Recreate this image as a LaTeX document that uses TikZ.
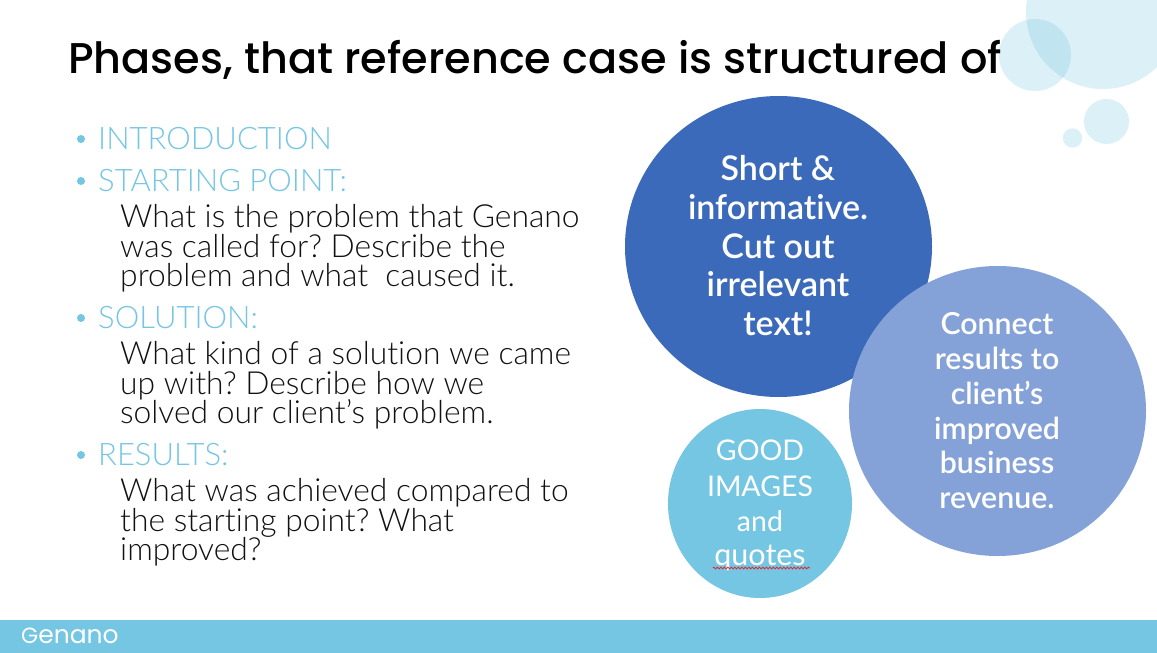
\documentclass[tikz,border=0pt]{standalone}
\usepackage{fontspec}
\setmainfont[Ligatures=NoCommon]{Lato}
\newfontfamily\titlefont{Poppins Medium}
\newfontfamily\lightfont[Ligatures=NoCommon]{Lato Light}
\newfontfamily\semifont[Ligatures=NoCommon]{Lato Semibold}
\newfontfamily\logofont{Poppins}
\frenchspacing
\usetikzlibrary{decorations.pathmorphing}
\definecolor{sky}{HTML}{75C6E3}
\definecolor{deep}{HTML}{3C6ABA}
\definecolor{mid}{HTML}{85A2D8}
\definecolor{bodyink}{HTML}{111111}
\definecolor{wavy}{HTML}{D9303A}
\tikzset{
  x=1pt,y=-1pt,
  titletext/.style={anchor=base west,inner sep=0pt,font=\titlefont\fontsize{43}{43}\selectfont,text=black},
  head/.style={anchor=base west,inner sep=0pt,font=\lightfont\fontsize{31}{31}\selectfont,text=sky},
  bodyline/.style={anchor=base west,inner sep=0pt,font=\lightfont\fontsize{31.8}{31.8}\selectfont,text=bodyink},
  dot/.style={circle,fill=sky,inner sep=0pt,minimum size=8pt},
  bubble/.style={fill=sky,fill opacity=.26,draw=none},
  bigtext/.style={anchor=base,inner sep=0pt,font=\semifont\fontsize{34}{34}\selectfont,text=white},
  midtext/.style={anchor=base,inner sep=0pt,font=\semifont\fontsize{30.3}{30.3}\selectfont,text=white},
  smalltext/.style={anchor=base,inner sep=0pt,font=\fontsize{28.5}{28.5}\selectfont,text=white},
  quotetext/.style={anchor=base,inner sep=0pt,font=\fontsize{30.5}{30.5}\selectfont,text=white},
}
\begin{document}
\begin{tikzpicture}
\useasboundingbox (0,0) rectangle (1157,653);
\fill[white] (0,0) rectangle (1157,653);
% decorative bubbles
\begin{scope}
\clip (0,0) rectangle (1157,653);
\fill[bubble] (1103,12) circle[radius=77];
\fill[bubble] (1035,55) circle[radius=36];
\fill[bubble] (1106.5,121.5) circle[radius=22.5];
\fill[bubble] (1072.5,138) circle[radius=9.7];
\end{scope}
% footer
\fill[sky] (0,620) rectangle (1157,653);
\node[anchor=base west,inner sep=0pt,text=white,font=\logofont] (logo) at (21,643) {\fontsize{22}{22}\selectfont G\fontsize{25}{25}\selectfont enano};
% title
\node[titletext] (title) at (68,73) {Phases, that reference case is structured of};
% list
\node[dot] (d1) at (81,139) {};
\node[head] (h1) at (98,149) {INTRODUCTION};
\node[dot] (d2) at (81,181) {};
\node[head] (h2) at (98,191) {STARTING POINT:};
\node[bodyline] (b1) at (120,227.5) {What is the problem that Genano};
\node[bodyline] (b2) at (120,257.5) {was called for? Describe the};
\node[bodyline] (b3) at (120,286.5) {problem and what\ \ caused it.};
\node[dot] (d3) at (81,318) {};
\node[head] (h3) at (98,328) {SOLUTION:};
\node[bodyline] (b4) at (120,364.5) {What kind of a solution we came};
\node[bodyline] (b5) at (120,394.5) {up with? Describe how we};
\node[bodyline] (b6) at (120,423.5) {solved our client’s problem.};
\node[dot] (d4) at (81,455) {};
\node[head] (h4) at (98,465) {RESULTS:};
\node[bodyline] (b7) at (120,501.5) {What was achieved compared to};
\node[bodyline] (b8) at (120,531.5) {the starting point? What};
\node[bodyline] (b9) at (120,560.5) {improved?};
% circles
\fill[deep] (778.5,246.5) ellipse[x radius=153.5,y radius=150.5];
\fill[mid] (997.5,411) ellipse[x radius=148.5,y radius=145];
\fill[sky] (760,503.5) ellipse[x radius=92,y radius=94.5];
% circle texts
\node[bigtext] (s1) at (778,180) {Short \&};
\node[bigtext] (s2) at (778,219) {informative.};
\node[bigtext] (s3) at (778,258) {Cut out};
\node[bigtext] (s4) at (778,296) {irrelevant};
\node[bigtext] (s5) at (778,335) {text!};
\node[midtext] (c1) at (997,334) {Connect};
\node[midtext] (c2) at (997,369) {results to};
\node[midtext] (c3) at (997,404) {client’s};
\node[midtext] (c4) at (997,439) {improved};
\node[midtext] (c5) at (997,473) {business};
\node[midtext] (c6) at (997,508) {revenue.};
\node[smalltext] (g1) at (760,460) {GOOD};
\node[smalltext] (g2) at (760,496) {IMAGES};
\node[smalltext] (g3) at (760,531) {and};
\node[quotetext] (g4) at (760,565) {quotes};
\coordinate (w1) at (713,568);
\coordinate (w2) at (810,568);
\draw[wavy,line width=.8pt,decorate,decoration={zigzag,amplitude=1pt,segment length=3.5pt}] (w1) -- (w2);
\end{tikzpicture}
\end{document}
